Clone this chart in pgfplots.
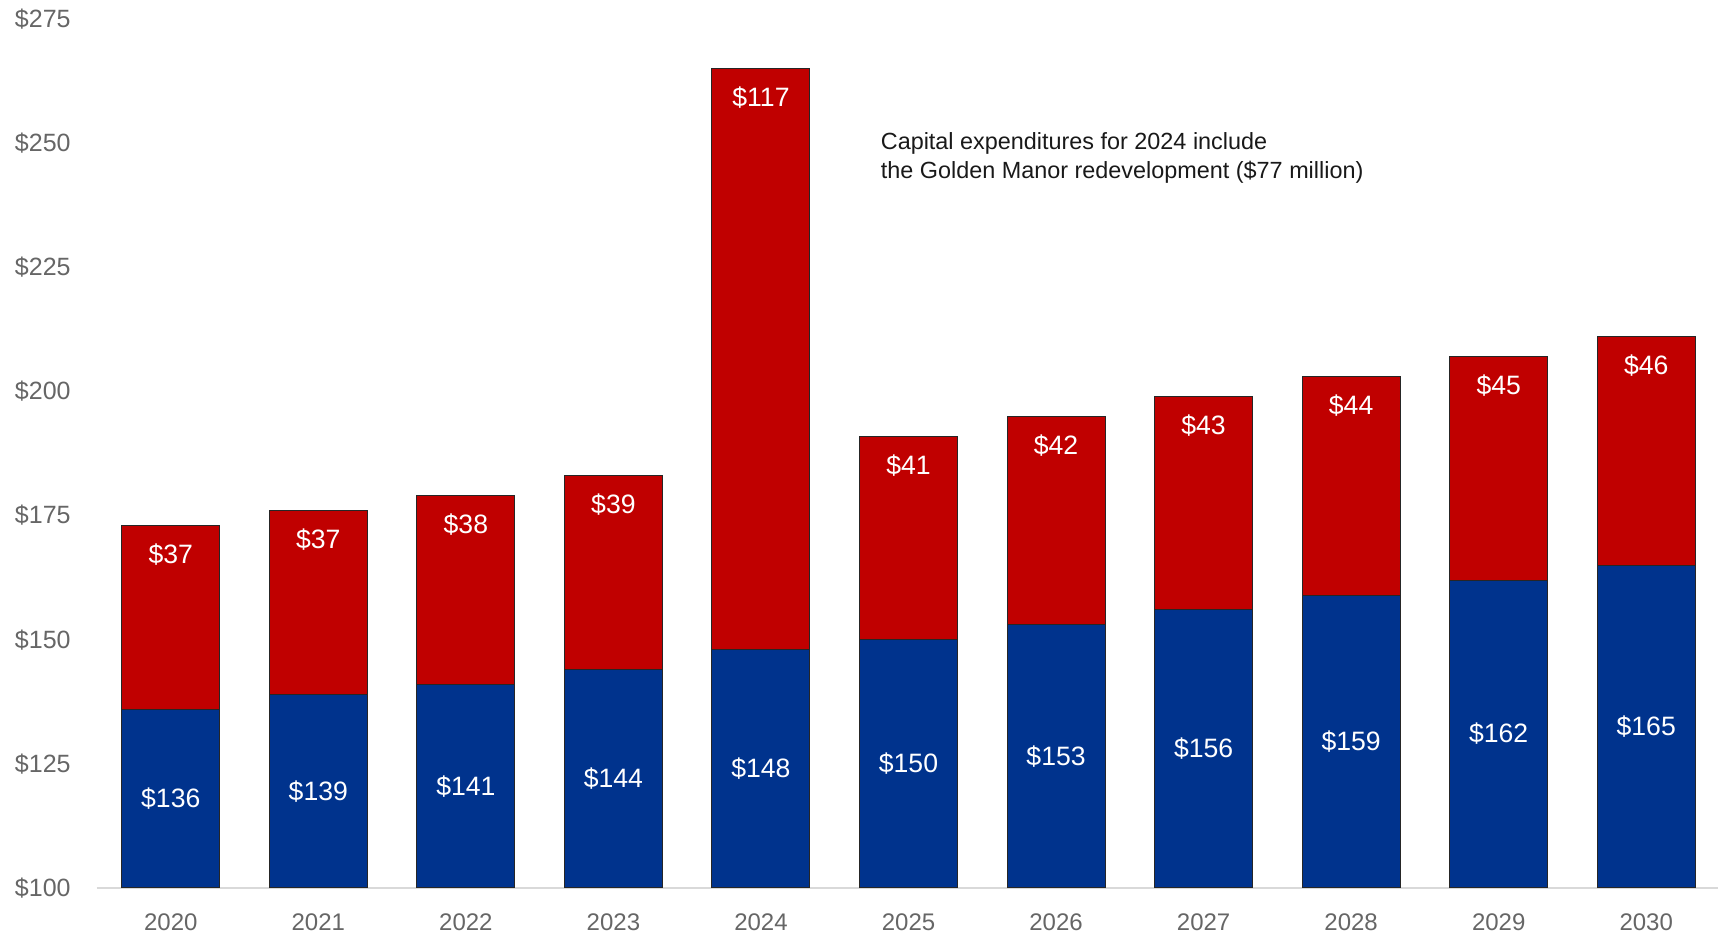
\documentclass[border=0pt]{standalone}
\usepackage{fontspec}
\setmainfont{Liberation Sans}
\usepackage{pgfplots}
\pgfplotsset{compat=1.18}
\usepackage{pgfplotstable}
\definecolor{barred}{HTML}{C00000}
\definecolor{barblue}{HTML}{00338D}
\definecolor{tickgray}{HTML}{666666}
\definecolor{axgray}{HTML}{D9D9D9}
\pgfplotstableread{
x year blue red
0 2020 136 37
1 2021 139 37
2 2022 141 38
3 2023 144 39
4 2024 148 117
5 2025 150 41
6 2026 153 42
7 2027 156 43
8 2028 159 44
9 2029 162 45
10 2030 165 46
}\data
\begin{document}
\begin{tikzpicture}
\useasboundingbox (-48.5pt,-23.5pt) rectangle (810.5pt,444pt);
\begin{axis}[
  scale only axis,
  width=811.5pt, height=434.5pt,
  xmin=-0.5, xmax=10.5,
  ymin=100, ymax=275,
  axis lines=left,
  axis line style={-},
  y axis line style={draw=none},
  x axis line style={draw=axgray, line width=1.3pt},
  major tick length=0pt,
  xtick={0,...,10},
  xticklabels={2020,2021,2022,2023,2024,2025,2026,2027,2028,2029,2030},
  ytick={100,125,150,175,200,225,250,275},
  yticklabels={\$100,\$125,\$150,\$175,\$200,\$225,\$250,\$275},
  xticklabel style={anchor=center, inner sep=0pt, yshift=-17pt, text=tickgray, font=\fontsize{12pt}{14pt}\selectfont},
  yticklabel style={anchor=east, inner sep=0pt, xshift=-13pt, text=tickgray, font=\fontsize{12.5pt}{15pt}\selectfont},
  /pgf/number format/assume math mode=true,
  clip=true,
]
\addplot[ybar, bar width=49pt, fill=barred, draw=black!85, line width=0.5pt]
  table[x=x, y expr=\thisrow{blue}+\thisrow{red}] {\data};
\addplot[ybar, bar width=49pt, fill=barblue, draw=black!85, line width=0.5pt]
  table[x=x, y=blue] {\data};
\addplot[draw=none, point meta=\thisrow{blue},
  nodes near coords={\$\pgfmathprintnumber{\pgfplotspointmeta}},
  every node near coord/.append style={anchor=center, text=white, inner sep=0pt, font=\fontsize{13.3pt}{16pt}\selectfont}]
  table[x=x, y expr=(\thisrow{blue}+100)/2] {\data};
\addplot[draw=none, point meta=\thisrow{red},
  nodes near coords={\$\pgfmathprintnumber{\pgfplotspointmeta}},
  every node near coord/.append style={anchor=center, text=white, inner sep=0pt, yshift=-14.5pt, font=\fontsize{13.3pt}{16pt}\selectfont}]
  table[x=x, y expr=\thisrow{blue}+\thisrow{red}] {\data};
\node[anchor=west, align=left, inner sep=0pt, text=black!90, font=\fontsize{11.7pt}{14.5pt}\selectfont]
  at (axis cs:4.81,247.1) {Capital expenditures for 2024 include\\the Golden Manor redevelopment (\$77 million)};
\end{axis}
\end{tikzpicture}
\end{document}
